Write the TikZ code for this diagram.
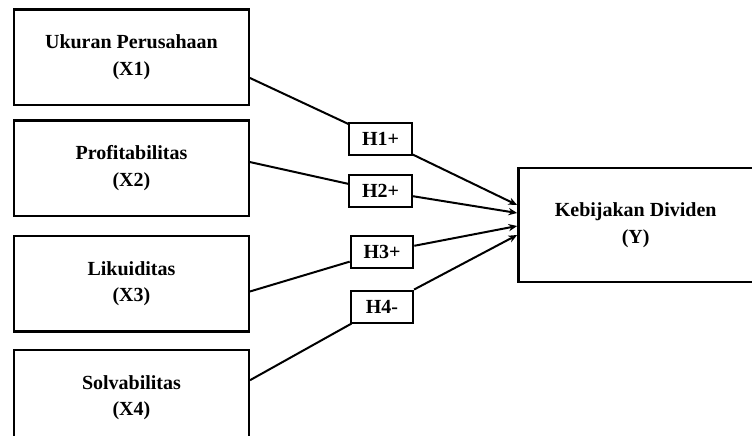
\documentclass[tikz,border=0pt]{standalone}
\usepackage{fontspec}
\setmainfont{Liberation Serif}
\usepackage{tikz}
\usetikzlibrary{positioning, calc, arrows.meta}

\begin{document}
\begin{tikzpicture}[
			font=\fontsize{15}{20}\selectfont\bfseries,
			varbox/.style={rectangle, draw=black, line width=1.8pt, fill=white, minimum width=176pt, minimum height=71.5pt, align=center},
			hypo/.style={rectangle, draw=black, line width=1.5pt, fill=white, minimum width=47pt, minimum height=24pt, inner sep=0pt},
			line/.style={line width=1.5pt, draw=black},
			arrow/.style={line width=1.5pt,-{Stealth[length=6.5pt,width=5.5pt]}, draw=black}
		]

		\useasboundingbox (0,0) rectangle (564pt,-326.25pt);

		\node (x1) [varbox] at (98.6pt,-43pt) {Ukuran Perusahaan\\(X1)};
		\node (x2) [varbox, below=9.75pt of x1] {Profitabilitas\\(X2)};
		\node (x3) [varbox, below=13.5pt of x2] {Likuiditas\\(X3)};
		\node (x4) [varbox, below=12pt of x3] {Solvabilitas\\(X4)};

		\node (y) [varbox, minimum height=85.5pt] at (476.75pt,-168.75pt) {Kebijakan Dividen\\(Y)};

		\node (h1) [hypo] at (285.4pt,-104.25pt) {H1+};
		\node (h2) [hypo] at (285.4pt,-143.25pt) {H2+};
		\node (h3) [hypo] at (286.5pt,-189pt) {H3+};
		\node (h4) [hypo] at (286.5pt,-229.9pt) {H4-};

		\draw[line] ([yshift=-15.5pt]x1.east) -- (h1);
		\draw[line] ([yshift=4.5pt]x2.east) -- (h2);
		\draw[line] ([yshift=-5.75pt]x3.east) -- (h3);
		\draw[line] ([yshift=13pt]x4.east) -- (h4);

		\draw[arrow] (h1) -- ([yshift=15pt]y.west);
		\draw[arrow] (h2) -- ([yshift=9pt]y.west);
		\draw[arrow] (h3) -- ([yshift=-0.75pt]y.west);
		\draw[arrow] (h4) -- ([yshift=-7.5pt]y.west);

	\end{tikzpicture}
\end{document}
